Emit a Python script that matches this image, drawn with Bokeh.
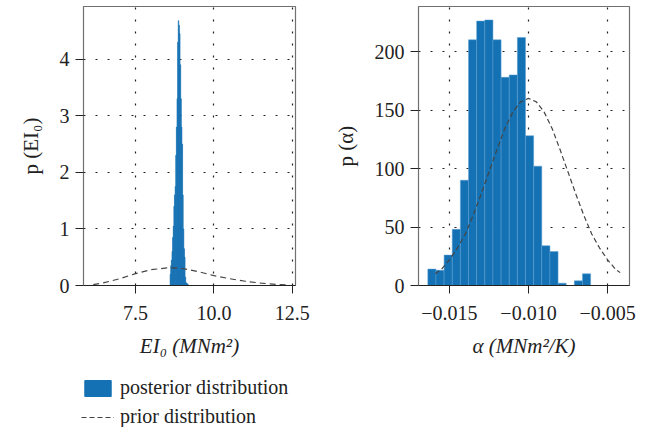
from bokeh.plotting import figure
from bokeh.layouts import row, column
from bokeh.models import Range1d, FixedTicker, Legend, LegendItem
from bokeh.embed import file_html
from bokeh.resources import INLINE

# ---------------- data ----------------
# Left panel: posterior histogram of EI0 (density), bins of width 0.02
ei_edges = [8.60, 8.62, 8.64, 8.66, 8.68, 8.70, 8.72, 8.74, 8.76, 8.78,
            8.80, 8.82, 8.84, 8.86, 8.88, 8.90, 8.92, 8.94, 8.96, 8.98,
            9.00, 9.02, 9.04, 9.06, 9.08, 9.10, 9.12, 9.14, 9.16, 9.18]
ei_density = [0.20, 0.35, 0.45, 0.60, 0.85, 1.05, 1.40, 1.60, 1.75, 2.30,
              2.80, 3.30, 4.30, 4.68, 4.60, 4.45, 3.90, 3.30, 2.80, 2.50,
              1.60, 1.00, 0.65, 0.50, 0.15, 0.05, 0.04, 0.03, 0.02]
# Left panel: prior curve
ei_prior_x = [6.15, 6.5, 7.0, 7.5, 8.0, 8.5, 8.7, 9.0, 9.5, 10.0, 10.5, 11.0, 11.5, 12.0, 12.3]
ei_prior_y = [0.015, 0.05, 0.12, 0.21, 0.28, 0.31, 0.312, 0.30, 0.245, 0.175, 0.12, 0.075, 0.042, 0.02, 0.01]

# Right panel: posterior histogram of alpha (counts)
al_edges = [-0.016370, -0.015855, -0.015340, -0.014825, -0.014310, -0.013795,
            -0.013280, -0.012765, -0.012250, -0.011735, -0.011220, -0.010705,
            -0.010190, -0.009675, -0.009160, -0.008645, -0.008130, -0.007615,
            -0.007100, -0.006585, -0.006070]
al_counts = [14, 13, 26, 48, 90, 210, 226, 227, 210, 178,
             180, 212, 128, 102, 34, 29, 2, 0, 4, 10]
# Right panel: prior curve
al_prior_x = [-0.0159, -0.0155, -0.0150, -0.0145, -0.0140, -0.0135, -0.0130,
              -0.0125, -0.0120, -0.0115, -0.0110, -0.0105, -0.0100, -0.0095,
              -0.0090, -0.0085, -0.0080, -0.0075, -0.0070, -0.0065, -0.0060,
              -0.0055, -0.0050, -0.0045, -0.0042]
al_prior_y = [10, 14, 22, 32, 44, 60, 78, 97, 116, 134, 148, 157, 160, 157,
              148, 134, 116, 97, 78, 60, 44, 32, 22, 14, 11]

ei_ticks = [7.5, 10.0, 12.5]
ei_tick_labels = ["7.5", "10.0", "12.5"]
ei_yticks = [0, 1, 2, 3, 4]
al_ticks = [-0.015, -0.010, -0.005]
al_tick_labels = ["\u22120.015", "\u22120.010", "\u22120.005"]
al_yticks = [0, 50, 100, 150, 200]

legend_labels = ["posterior distribution", "prior distribution"]

# ---------------- style ----------------
FONT = "Liberation Serif"
BLUE = "#1471b3"
DARK = "#222222"
FS = "20px"
FS_LABEL = "21px"


def style(p, xlabel, ylabel):
    p.outline_line_color = "#707070"
    p.outline_line_width = 1.2
    for ax in (p.xaxis[0], p.yaxis[0]):
        ax.major_tick_out = 8
        ax.major_tick_in = 0
        ax.minor_tick_out = 0
        ax.minor_tick_in = 0
        ax.major_tick_line_color = DARK
        ax.major_label_text_font = FONT
        ax.major_label_text_font_size = FS
        ax.major_label_text_color = DARK
        ax.axis_label_text_font = FONT
        ax.axis_label_text_font_size = FS_LABEL
        ax.axis_label_text_color = DARK
    p.xaxis.axis_line_color = DARK
    p.xaxis.axis_line_width = 1.2
    p.yaxis.axis_line_color = "#707070"
    p.xaxis.axis_label = xlabel
    p.yaxis.axis_label = ylabel
    p.xaxis.axis_label_text_font_style = "italic"
    p.yaxis.axis_label_text_font_style = "normal"
    p.xaxis.major_label_standoff = 12
    p.yaxis.major_label_standoff = 6
    p.xaxis.axis_label_standoff = 11
    p.yaxis.axis_label_standoff = 14
    for g in (p.xgrid[0], p.ygrid[0]):
        g.grid_line_color = DARK
        g.grid_line_dash = "2 10"
        g.grid_line_width = 1.2


p1 = figure(frame_width=212, frame_height=279, min_border_left=83, min_border_right=35,
            min_border_top=6, min_border_bottom=80,
            x_range=Range1d(5.84, 12.6), y_range=Range1d(0, 4.93),
            toolbar_location=None, output_backend="svg")
p1.quad(left=ei_edges[:-1], right=ei_edges[1:], top=ei_density, bottom=0,
        fill_color=BLUE, line_color=BLUE, line_width=0.5)
p1.line(ei_prior_x, ei_prior_y, line_color="#444444", line_dash="6 4", line_width=1.2)
style(p1, "EI\u2080 (MNm\u00b2)", "p (EI\u2080)")
p1.xaxis.ticker = FixedTicker(ticks=ei_ticks)
p1.xaxis.major_label_overrides = {t: s for t, s in zip(ei_ticks, ei_tick_labels)}
p1.yaxis.ticker = FixedTicker(ticks=ei_yticks)

p2 = figure(frame_width=211, frame_height=279, min_border_left=86, min_border_right=19,
            min_border_top=6, min_border_bottom=80,
            x_range=Range1d(-0.01696, -0.00361), y_range=Range1d(0, 238.5),
            toolbar_location=None, output_backend="svg")
p2.quad(left=al_edges[:-1], right=al_edges[1:], top=al_counts, bottom=0,
        fill_color=BLUE, line_color="#5b9fd2", line_width=0.5)
p2.line(al_prior_x, al_prior_y, line_color="#444444", line_dash="5 3", line_width=1.2)
style(p2, "\u03b1 (MNm\u00b2/K)", "p (\u03b1)")
p2.xaxis.ticker = FixedTicker(ticks=al_ticks)
p2.xaxis.major_label_overrides = {t: s for t, s in zip(al_ticks, al_tick_labels)}
p2.yaxis.ticker = FixedTicker(ticks=al_yticks)

# legend strip (legend renderers sit outside the visible range)
p3 = figure(width=646, height=62, x_range=Range1d(0, 1), y_range=Range1d(0, 1),
            x_axis_type=None, y_axis_type=None, toolbar_location=None,
            output_backend="svg", min_border_left=81, min_border_top=11,
            min_border_right=0, min_border_bottom=0)
p3.outline_line_color = None
p3.xgrid.visible = False
p3.ygrid.visible = False
r1 = p3.quad(left=[5], right=[6], top=[6], bottom=[5], fill_color=BLUE, line_color=BLUE)
r2 = p3.line(x=[5, 6], y=[5, 5], line_color="#444444", line_dash="5 3", line_width=1.2)
leg = Legend(items=[LegendItem(label=legend_labels[0], renderers=[r1]),
                    LegendItem(label=legend_labels[1], renderers=[r2])],
             location="top_left")
leg.padding = 0
leg.margin = 0
leg.border_line_color = None
leg.background_fill_alpha = 0
leg.glyph_width = 33
leg.glyph_height = 20
leg.label_height = 20
leg.spacing = 6
leg.label_standoff = 6
leg.label_text_font = FONT
leg.label_text_font_size = FS
leg.label_text_color = DARK
p3.add_layout(leg, "center")

layout = column(row(p1, p2), p3)
open("out.html", "w").write(file_html(layout, INLINE))
